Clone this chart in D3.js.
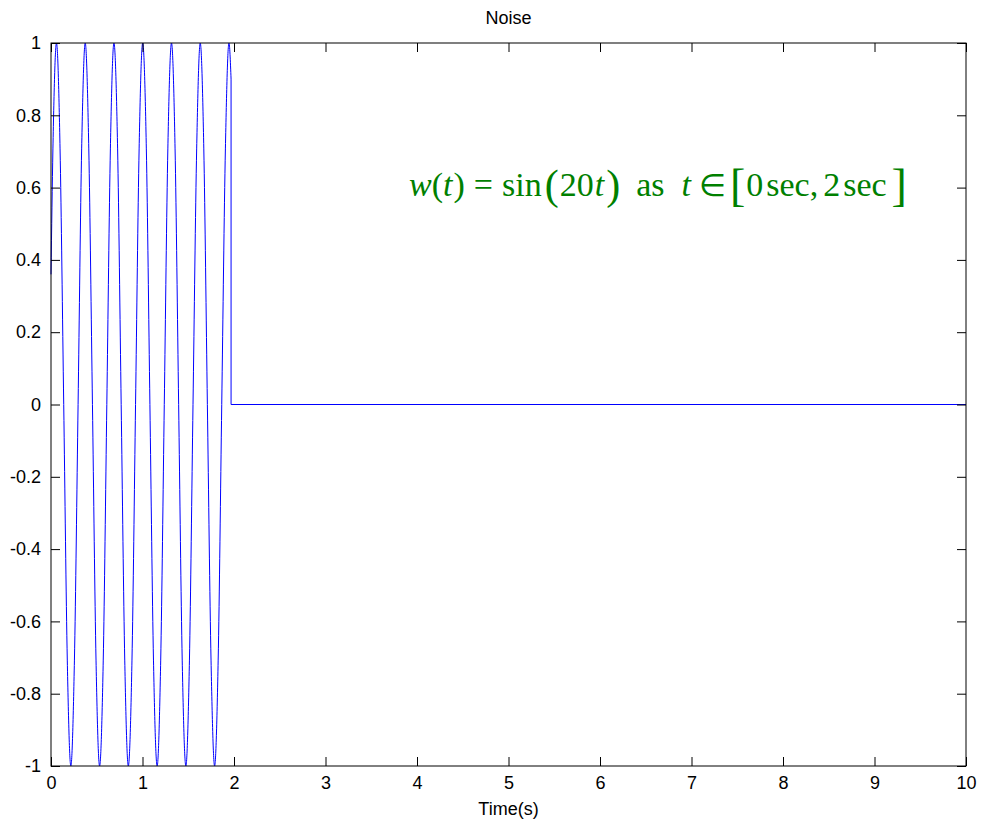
<!DOCTYPE html>
<html>
<head>
<meta charset="utf-8">
<script src="https://cdn.jsdelivr.net/npm/d3@7/dist/d3.min.js"></script>
<style>
  html, body { margin: 0; padding: 0; background: #ffffff; }
  svg { display: block; }
  .tick text { font-family: "Liberation Sans", Arial, Helvetica, sans-serif; font-size: 18px; fill: #000; }
</style>
</head>
<body>
<svg id="chart" width="986" height="825"></svg>
<script>
// Noise signal w(t): sample times (s) and amplitudes
const noiseTime = [
  0.000, 0.021, 0.060, 0.099, 0.139, 0.178, 0.217, 0.256, 0.296, 0.335,
  0.374, 0.413, 0.453, 0.492, 0.531, 0.571, 0.610, 0.649,
  0.688, 0.728, 0.767, 0.806, 0.845, 0.885, 0.924, 0.963,
  1.002, 1.042, 1.081, 1.120, 1.160, 1.199, 1.238, 1.277,
  1.317, 1.356, 1.395, 1.434, 1.474, 1.513, 1.552, 1.592,
  1.631, 1.670, 1.709, 1.749, 1.788, 1.827, 1.866, 1.906,
  1.945, 1.968
];
const noiseValue = [
  0.36, 0.707, 1, 0.707, 0, -0.707, -1, -0.707, 0, 0.707,
  1, 0.707, 0, -0.707, -1, -0.707, 0, 0.707,
  1, 0.707, 0, -0.707, -1, -0.707, 0, 0.707,
  1, 0.707, 0, -0.707, -1, -0.707, 0, 0.707,
  1, 0.707, 0, -0.707, -1, -0.707, 0, 0.707,
  1, 0.707, 0, -0.707, -1, -0.707, 0, 0.707,
  1, 0.9
];
// After the noise window the signal is switched off
const offTime = [1.968, 1.968, 10];
const offValue = [0.9, 0, 0];

const xTicks = [0, 1, 2, 3, 4, 5, 6, 7, 8, 9, 10];
const xTickLabels = ["0", "1", "2", "3", "4", "5", "6", "7", "8", "9", "10"];
const yTicks = [-1, -0.8, -0.6, -0.4, -0.2, 0, 0.2, 0.4, 0.6, 0.8, 1];
const yTickLabels = ["-1", "-0.8", "-0.6", "-0.4", "-0.2", "0", "0.2", "0.4", "0.6", "0.8", "1"];

const titleText = "Noise";
const xLabelText = "Time(s)";

(function draw() {
  const svg = d3.select("#chart");
  const pL = 51, pR = 966, pT = 43, pB = 766;
  const tickLen = 9;

  const x = d3.scaleLinear().domain([0, 10]).range([pL, pR]);
  const y = d3.scaleLinear().domain([-1, 1]).range([pB, pT]);

  const sinePts = noiseTime.map((t, i) => [t, noiseValue[i]]);
  const offPts = offTime.map((t, i) => [t, offValue[i]]);

  const plot = svg.append("g");
  plot.append("path")
    .datum(sinePts)
    .attr("fill", "none")
    .attr("stroke", "#0000ff")
    .attr("stroke-width", 1)
    .attr("d", d3.line().x(d => x(d[0])).y(d => y(d[1])).curve(d3.curveMonotoneX));
  plot.append("path")
    .datum(offPts)
    .attr("fill", "none")
    .attr("stroke", "#0000ff")
    .attr("stroke-width", 1)
    .attr("d", d3.line().x(d => x(d[0])).y(d => y(d[1])));

  // axes with inward ticks on all four sides
  const xFmt = (d, i) => xTickLabels[i];
  const yFmt = (d, i) => yTickLabels[i];

  svg.append("g").attr("transform", `translate(0,${pB})`)
    .call(d3.axisBottom(x).tickValues(xTicks).tickFormat(xFmt).tickSizeInner(-tickLen).tickSizeOuter(0).tickPadding(10));
  svg.append("g").attr("transform", `translate(0,${pT})`)
    .call(d3.axisTop(x).tickValues(xTicks).tickFormat("").tickSizeInner(-tickLen).tickSizeOuter(0));
  svg.append("g").attr("transform", `translate(${pL},0)`)
    .call(d3.axisLeft(y).tickValues(yTicks).tickFormat(yFmt).tickSizeInner(-tickLen).tickSizeOuter(0).tickPadding(10));
  svg.append("g").attr("transform", `translate(${pR},0)`)
    .call(d3.axisRight(y).tickValues(yTicks).tickFormat("").tickSizeInner(-tickLen).tickSizeOuter(0));

  svg.selectAll(".domain").remove();
  svg.selectAll(".tick line").attr("stroke", "#000").attr("stroke-width", 1);

  svg.append("rect")
    .attr("x", pL).attr("y", pT)
    .attr("width", pR - pL).attr("height", pB - pT)
    .attr("fill", "none").attr("stroke", "#000").attr("stroke-width", 1);

  // title and axis label
  svg.append("text")
    .attr("x", (pL + pR) / 2).attr("y", 24)
    .attr("text-anchor", "middle")
    .attr("font-family", "Liberation Sans, Arial, sans-serif")
    .attr("font-size", 18)
    .text(titleText);
  svg.append("text")
    .attr("x", (pL + pR) / 2).attr("y", 815)
    .attr("text-anchor", "middle")
    .attr("font-family", "Liberation Sans, Arial, sans-serif")
    .attr("font-size", 18)
    .text(xLabelText);

  // equation annotation, laid out piece by piece
  const eqBase = 196;
  const eqSize = 34;
  const eqPieces = [
    { s: "w", it: true, gap: 0 },
    { s: "(", gap: 0 },
    { s: "t", it: true, gap: 1 },
    { s: ")", gap: 9 },
    { s: "=", gap: 9 },
    { s: "sin", gap: 3 },
    { s: "(", size: 42, dy: 3, gap: 1 },
    { s: "20", gap: 1 },
    { s: "t", it: true, gap: 2 },
    { s: ")", size: 42, dy: 3, gap: 16 },
    { s: "as", gap: 17 },
    { s: "t", it: true, gap: 8 },
    { s: "\u2208", size: 31, gap: 4 },
    { s: "[", size: 46, dy: 5, gap: 1 },
    { s: "0", gap: 3 },
    { s: "sec,", gap: 5 },
    { s: "2", gap: 3 },
    { s: "sec", gap: 5 },
    { s: "]", size: 46, dy: 5, gap: 0 }
  ];
  const eq = svg.append("g")
    .attr("font-family", "Liberation Serif, 'Times New Roman', serif")
    .attr("fill", "#008000");
  let cx = 409;
  eqPieces.forEach(p => {
    const t = eq.append("text")
      .attr("x", cx)
      .attr("y", eqBase + (p.dy || 0))
      .attr("font-size", p.size || eqSize)
      .attr("font-style", p.it ? "italic" : "normal")
      .text(p.s);
    cx += t.node().getComputedTextLength() + p.gap;
  });
})();
</script>
</body>
</html>
